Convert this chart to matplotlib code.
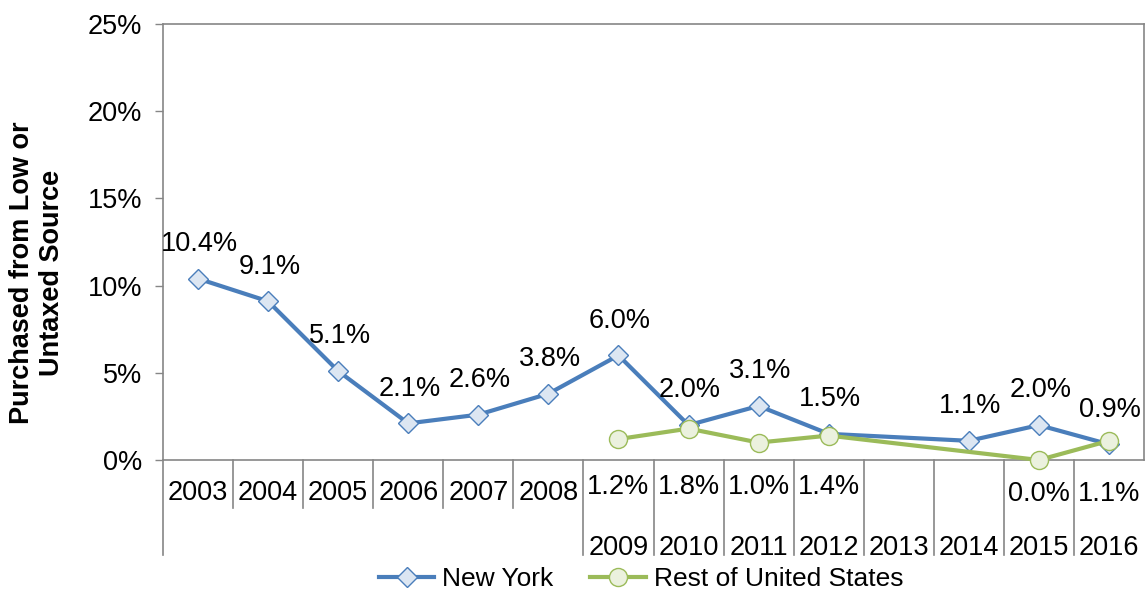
import numpy as np
import matplotlib
matplotlib.use("Agg")
import matplotlib.pyplot as plt
from matplotlib.lines import Line2D
from matplotlib.transforms import blended_transform_factory

# ---- data -------------------------------------------------------------
years = ["2003", "2004", "2005", "2006", "2007", "2008", "2009",
         "2010", "2011", "2012", "2013", "2014", "2015", "2016"]
new_york = [10.4, 9.1, 5.1, 2.1, 2.6, 3.8, 6.0,
            2.0, 3.1, 1.5, None, 1.1, 2.0, 0.9]
rest_of_us = [None, None, None, None, None, None, 1.2,
              1.8, 1.0, 1.4, None, None, 0.0, 1.1]
y_ticks = [0, 5, 10, 15, 20, 25]
y_label = "Purchased from Low or\nUntaxed Source"
series_names = ["New York", "Rest of United States"]

# ---- style ------------------------------------------------------------
plt.rcParams["font.family"] = ["Liberation Sans", "DejaVu Sans"]
FS = 19.5
GRID = "#868686"
NY_LINE, NY_FACE = "#4A7EBB", "#DCE6F2"
US_LINE, US_FACE = "#9BBB59", "#EBF1DE"

W, H = 1145, 592
fig = plt.figure(figsize=(W / 100, H / 100), dpi=100)
ax = fig.add_axes([163 / W, 1 - 460 / H, 981 / W, 436 / H])


def valid(series):
    idx = [i for i, v in enumerate(series) if v is not None]
    return np.array(idx), np.array([series[i] for i in idx], dtype=float)


ny_x, ny_y = valid(new_york)
us_x, us_y = valid(rest_of_us)

ax.plot(ny_x, ny_y, color=NY_LINE, lw=3, marker="D", ms=10,
        mfc=NY_FACE, mec=NY_LINE, mew=1.0, zorder=3, clip_on=False)
ax.plot(us_x, us_y, color=US_LINE, lw=3, marker="o", ms=13,
        mfc=US_FACE, mec=US_LINE, mew=1.0, zorder=4, clip_on=False)

# value labels above New York points
for xi, yi in zip(ny_x, ny_y):
    ax.annotate(f"{yi:.1f}%", (xi, yi), xytext=(1, 25),
                textcoords="offset points", ha="center", va="center",
                fontsize=FS, color="black", zorder=5)

ax.set_xlim(-0.5, len(years) - 0.5)
ax.set_ylim(0, 25)
ax.set_yticks(y_ticks)
ax.set_yticklabels([f"{t}%" for t in y_ticks])
ax.tick_params(axis="y", length=6, width=1, color=GRID, pad=9,
               labelsize=FS, labelcolor="black", direction="out")
ax.set_xticks([])

for sp in ax.spines.values():
    sp.set_color(GRID)
    sp.set_linewidth(1.2)

# ---- multi-row category axis -----------------------------------------
tr = blended_transform_factory(ax.transData, fig.transFigure)


def fy(px):
    return 1 - px / H


first_split = 6  # years from here on carry a second label row

# separators between categories
for i in range(len(years)):
    bx = i - 0.5
    bottom = 555 if (i == 0 or i >= first_split) else 508
    ax.add_line(Line2D([bx, bx], [fy(460), fy(bottom)], transform=tr,
                       color=GRID, lw=1.2, clip_on=False))

for i, yr in enumerate(years):
    if i < first_split:
        fig.text(i, fy(493), yr, transform=tr, ha="center", va="center",
                 fontsize=FS)
    else:
        fig.text(i, fy(548), yr, transform=tr, ha="center", va="center",
                 fontsize=FS)
        v = rest_of_us[i]
        if v is not None:
            row_y = 487 if i < 10 else 494
            fig.text(i, fy(row_y), f"{v:.1f}%", transform=tr, ha="center",
                     va="center", fontsize=FS)

# ---- y label ---------------------------------------------------------
fig.text(37 / W, fy(273), y_label, rotation=90, ha="center", va="center",
         fontsize=FS, fontweight="bold", multialignment="center",
         linespacing=1.2)

# ---- legend ----------------------------------------------------------
handles = [
    Line2D([], [], color=NY_LINE, lw=3, marker="D", ms=10, mfc=NY_FACE,
           mec=NY_LINE, mew=1.0),
    Line2D([], [], color=US_LINE, lw=3, marker="o", ms=13, mfc=US_FACE,
           mec=US_LINE, mew=1.0),
]
fig.legend(handles, series_names, loc="center",
           bbox_to_anchor=(641 / W, fy(579)), ncol=2, frameon=False,
           fontsize=19, handlelength=2.1, handletextpad=0.3,
           columnspacing=1.4, borderaxespad=0, borderpad=0)

fig.savefig("out.png", dpi=100)
